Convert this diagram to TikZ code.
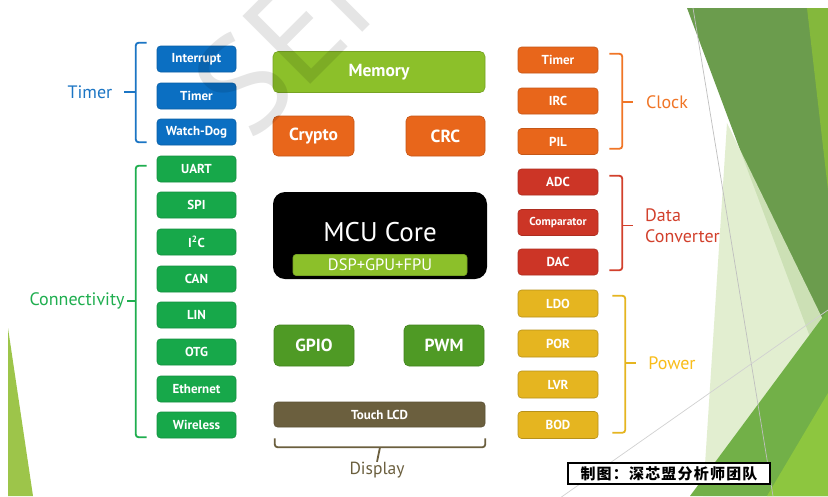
\documentclass[tikz,border=0pt]{standalone}
\usepackage{fontspec}
\setmainfont{PT Sans}
\newfontfamily\cjk{Noto Sans CJK SC}
\usetikzlibrary{calc}

\definecolor{cblue}{HTML}{0B6FC2}
\definecolor{cbluetxt}{HTML}{1B75C4}
\definecolor{cgreen}{HTML}{17A84A}
\definecolor{cgreentxt}{HTML}{1FAE4F}
\definecolor{clime}{HTML}{8CC02A}
\definecolor{corange}{HTML}{E8661B}
\definecolor{corangetxt}{HTML}{F07526}
\definecolor{cred}{HTML}{CC3526}
\definecolor{credtxt}{HTML}{D2402C}
\definecolor{cyellow}{HTML}{E5B520}
\definecolor{cyellowtxt}{HTML}{F9BD1A}
\definecolor{cgpio}{HTML}{4F9A25}
\definecolor{cbrown}{HTML}{6B5F3E}
\definecolor{fdark}{HTML}{6B9C4D}
\definecolor{fbright}{HTML}{84B83C}
\definecolor{fpale}{HTML}{DDECC8}
\definecolor{fmid}{HTML}{72B048}
\definecolor{flime}{HTML}{8DC63F}
\definecolor{fleft}{HTML}{9DC54A}

\begin{document}
\begin{tikzpicture}[x=1pt,y=-1pt,
  box/.style={rounded corners=3.5pt, inner sep=0pt, text=white,
    minimum width=79pt, minimum height=26pt, line width=0.6pt,
    font=\bfseries\fontsize{13}{13}\selectfont},
  bluebox/.style={box, fill=cblue, draw=cblue!85!black},
  greenbox/.style={box, fill=cgreen, draw=cgreen!85!black},
  orangebox/.style={box, fill=corange, draw=corange!85!black, minimum width=80pt},
  redbox/.style={box, fill=cred, draw=cred!85!black, minimum width=80pt},
  yellowbox/.style={box, fill=cyellow, draw=cyellow!80!black, minimum width=80pt, minimum height=27pt},
  bigbox/.style={box, font=\bfseries\fontsize{17.5}{19}\selectfont, rounded corners=5pt},
  grouplabel/.style={inner sep=0pt, font=\fontsize{18}{20}\selectfont},
  brk/.style={line width=1.8pt, rounded corners=3pt}
]
\useasboundingbox (0,0) rectangle (828,496);
\fill[white] (0,0) rectangle (828,496);

% decorative facets at the right and bottom left
\fill[fleft] (8,328) -- (8,496) -- (33,496) -- cycle;
\fill[fdark] (687,8) -- (828,8) -- (828,385) -- cycle;
\fill[fbright] (807,8) -- (828,8) -- (828,190) -- cycle;
\fill[fpale, opacity=0.85] (727,123) -- (703,496) -- (767,496) -- (828,393) -- (828,330) -- cycle;
\fill[fmid] (690,496) -- (828,310) -- (828,496) -- cycle;
\fill[flime] (767,496) -- (828,393) -- (828,496) -- cycle;
\draw[black!25, line width=0.7pt] (693,8) -- (773,496);
\draw[black!18, line width=0.7pt] (560,498) -- (828,310);

% timer group
\node[bluebox] (int) at (196.5,59) {Interrupt};
\node[bluebox] (tmr) at (196.5,96) {Timer};
\node[bluebox] (wd)  at (196.5,132) {Watch-Dog};
\node[grouplabel, text=cbluetxt] (tmrlbl) at (90,92) {Timer};
\draw[brk, cbluetxt] ($(int.north west)+(-10,-3)$) -- ++(-11,0) coordinate (bA)
  |- ($(wd.south west)+(-10,-3)$);
\draw[brk, cbluetxt] (bA |- tmrlbl) -- ++(-12,0);

% connectivity group
\node[greenbox] (uart) at (196.5,169) {UART};
\node[greenbox] (spi)  at (196.5,205) {SPI};
\node[greenbox] (iic)  at (196.5,242) {I\textsuperscript{2}C};
\node[greenbox] (can)  at (196.5,279) {CAN};
\node[greenbox] (lin)  at (196.5,315) {LIN};
\node[greenbox] (otg)  at (196.5,352) {OTG};
\node[greenbox] (eth)  at (196.5,389) {Ethernet};
\node[greenbox] (wl)   at (196.5,425) {Wireless};
\node[grouplabel, text=cgreentxt] (conlbl) at (77,301) {Connectivity};
\draw[brk, cgreentxt] ($(uart.north west)+(-10,10)$) -- ++(-11,0) coordinate (gA)
  |- ($(wl.south west)+(-10,-1)$);
\draw[brk, cgreentxt] (gA |- conlbl) -- ++(-9,0);

% central blocks
\node[bigbox, fill=clime, draw=clime!85!black, minimum width=212pt, minimum height=41pt] (mem) at (379,72) {Memory};
\node[bigbox, fill=corange, draw=corange!85!black, minimum width=81pt, minimum height=40pt] (crypto) at (313.5,136) {Crypto};
\node[bigbox, fill=corange, draw=corange!85!black, minimum width=79pt, minimum height=40pt] (crc) at (445.5,136) {CRC};
\node[rounded corners=12pt, fill=black, minimum width=214pt, minimum height=87pt, inner sep=0pt] (mcu) at (380,235.5) {};
\node[text=white, inner sep=0pt, font=\fontsize{27}{29}\selectfont] (mcutxt) at (380,232) {MCU Core};
\node[box, fill=clime, draw=clime!85!black, rounded corners=3pt, minimum width=174pt, minimum height=21pt,
  font=\fontsize{16.5}{17}\selectfont] (dsp) at (380,265) {DSP+GPU+FPU};
\node[bigbox, fill=cgpio, draw=cgpio!85!black, minimum width=80pt, minimum height=41pt] (gpio) at (314,345.5) {GPIO};
\node[bigbox, fill=cgpio, draw=cgpio!85!black, minimum width=80pt, minimum height=41pt] (pwm) at (444,345.5) {PWM};
\node[box, fill=cbrown, draw=cbrown!85!black, minimum width=211pt, minimum height=25pt] (lcd) at (379.5,414.5) {Touch LCD};
\node[grouplabel, text=cbrown, font=\fontsize{17.5}{19}\selectfont] (disp) at (377,470) {Display};
\draw[brk, cbrown] ($(lcd.south west)+(1,11)$) -- ++(0,9) -| ($(lcd.south east)+(0,11)$);
\draw[brk, cbrown] ($(lcd.south)+(0.5,20)$) -- (disp.north);

% clock group
\node[orangebox] (otmr) at (558,60) {Timer};
\node[orangebox] (irc)  at (558,101) {IRC};
\node[orangebox] (pil)  at (558,141.5) {PIL};
\node[grouplabel, text=corangetxt] (clk) at (667,102) {Clock};
\draw[brk, corangetxt] ($(otmr.north east)+(11,7)$) -- ++(13,0) coordinate (oA)
  |- ($(pil.south east)+(11,-6)$);
\draw[brk, corangetxt] (oA |- clk) -- ++(11,0);

% data converter group
\node[redbox] (adc)  at (558,182) {ADC};
\node[redbox, font=\bfseries\fontsize{11.5}{12}\selectfont] (cmp)  at (558,222.5) {Comparator};
\node[redbox] (dac)  at (558,262) {DAC};
\node[grouplabel, text=credtxt, align=left, anchor=west, font=\fontsize{18}{21}\selectfont] (dcv) at (645,225.5) {Data\\Converter};
\draw[brk, credtxt] ($(adc.north east)+(11,7)$) -- ++(13,0) coordinate (rA)
  |- ($(dac.south east)+(11,-5)$);
\draw[brk, credtxt] (rA |- dcv) -- ++(11,0);

% power group
\node[yellowbox] (ldo) at (558,303.5) {LDO};
\node[yellowbox] (por) at (558,343.5) {POR};
\node[yellowbox] (lvr) at (558,384.5) {LVR};
\node[yellowbox] (bod) at (558,425) {BOD};
\node[grouplabel, text=cyellowtxt] (pwr) at (672,363) {Power};
\draw[brk, cyellow] ($(ldo.north east)+(14,6)$) -- ++(13,0) coordinate (yA)
  |- ($(bod.south east)+(14,-6)$);
\draw[brk, cyellow] (yA |- pwr) -- ++(11,0);

% faint watermark
\begin{scope}
\clip (0,0) rectangle (828,496);
\node[rotate=45, anchor=base west, inner sep=0pt, text=black, opacity=0.1,
  font=\fontsize{137}{137}\selectfont] (wm) at (251,144) {SEMI};
\end{scope}

% credit box
\node[draw=black, line width=1.3pt, fill=white, minimum width=202pt, minimum height=21pt, inner sep=0pt,
  font=\cjk\bfseries\fontsize{15}{16}\selectfont\addfontfeatures{LetterSpace=8}] (credit) at (669,473.5) {制图：深芯盟分析师团队};
\end{tikzpicture}
\end{document}
